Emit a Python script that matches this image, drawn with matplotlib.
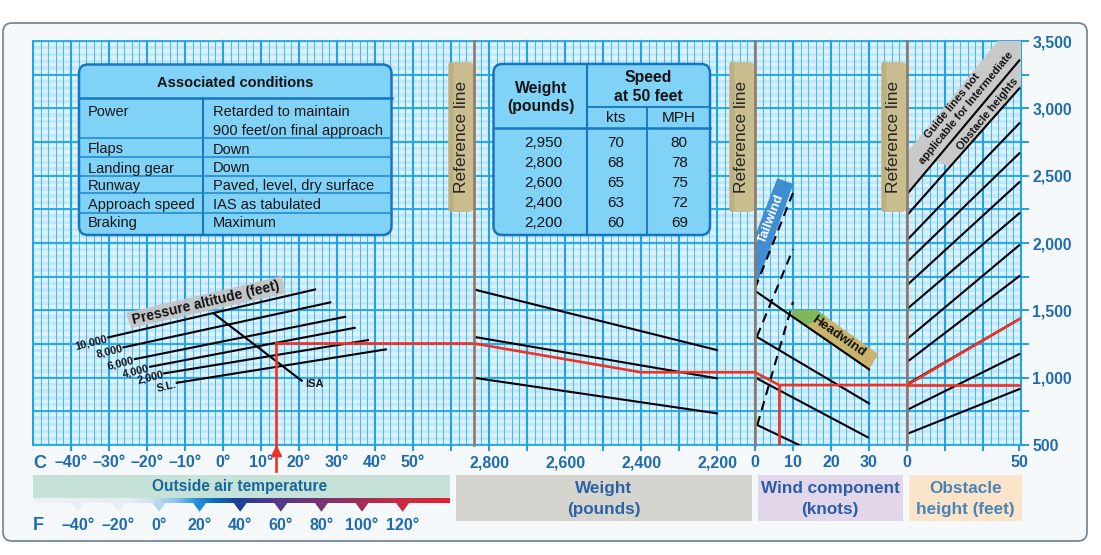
import numpy as np
import matplotlib
matplotlib.use('Agg')
import matplotlib.pyplot as plt
from matplotlib.patches import FancyBboxPatch, Polygon, Rectangle
from matplotlib.colors import LinearSegmentedColormap

plt.rcParams['font.family'] = ['Liberation Sans', 'DejaVu Sans']

# ---------------- data ----------------
altitude_labels = ['10,000', '8,000', '6,000', '4,000', '2,000', 'S.L.']
alt_temp_start = [-30.2, -26.2, -23.2, -19.2, -15.5, -12.2]
alt_temp_end = [24.2, 28.2, 32.1, 34.6, 38.1, 42.8]
alt_dist_start = [1299, 1225, 1138, 1081, 1032, 962]
alt_dist_end = [1655, 1559, 1452, 1370, 1279, 1210]
isa_temp = [-2.5, 20.7]
isa_dist = [1477, 977]

weight_ref = 2840
weight_min = 2200
weight_dist_ref = [1655, 1303, 999]
weight_dist_min = [1205, 995, 735]

headwind_start_kt = [0, 0, 0, 0.6]
headwind_start_dist = [1645, 1311, 1002, 648]
headwind_end_kt = [30, 30, 29.7, 12]
headwind_end_dist = [1062, 809, 557, 495]

tailwind_start_kt = [0, 0.5, 0.6]
tailwind_start_dist = [1662, 1305, 648]
tailwind_end_kt = [10, 10, 10]
tailwind_end_dist = [2372, 1954, 1563]

obstacle_dist_0 = [2362, 2206, 2021, 1858, 1687, 1509, 1286, 1116, 952, 760, 582]
obstacle_dist_50 = [3356, 3148, 2889, 2666, 2451, 2221, 1984, 1754, 1435, 1175, 915]

ex_temp = 14
ex_dist_temp = 1254
ex_weight = 2400
ex_dist_weight = 1040
ex_wind = 6.4
ex_dist_wind = 945
ex_obstacle = 50
ex_dist_obstacle = 1435

temp_c_ticks = [-40, -30, -20, -10, 0, 10, 20, 30, 40, 50, 60]
temp_c_labels = ['\u201340\u00b0', '\u201330\u00b0', '\u201320\u00b0', '\u201310\u00b0', '0\u00b0',
                 '10\u00b0', '20\u00b0', '30\u00b0', '40\u00b0', '50\u00b0', '']
temp_f_ticks = [-40, -20, 0, 20, 40, 60, 80, 100, 120]
temp_f_labels = ['\u201340\u00b0', '\u201320\u00b0', '0\u00b0', '20\u00b0', '40\u00b0', '60\u00b0',
                 '80\u00b0', '100\u00b0', '120\u00b0']
weight_ticks = [2800, 2600, 2400, 2200]
weight_labels = ['2,800', '2,600', '2,400', '2,200']
weight_minor = [2700, 2500, 2300]
wind_ticks = [0, 10, 20, 30]
wind_labels = ['0', '10', '20', '30']
obstacle_ticks = [0, 50]
obstacle_labels = ['0', '50']
dist_ticks = [500, 1000, 1500, 2000, 2500, 3000, 3500]
dist_labels = ['500', '1,000', '1,500', '2,000', '2,500', '3,000', '3,500']
dist_minor = [750, 1250, 1750, 2250, 2750, 3250]

cond_title = 'Associated conditions'
cond_names = ['Power', 'Flaps', 'Landing gear', 'Runway', 'Approach speed', 'Braking']
cond_values = ['Retarded to maintain\n900 feet/on final approach', 'Down', 'Down',
               'Paved, level, dry surface', 'IAS as tabulated', 'Maximum']
tbl_weight = ['2,950', '2,800', '2,600', '2,400', '2,200']
tbl_kts = ['70', '68', '65', '63', '60']
tbl_mph = ['80', '78', '75', '72', '69']

# ---------------- layout ----------------
W, H = 1101, 555
GX0, GX1, GY0, GY1 = 33, 1021, 41, 445
XR1, XR2, XR3 = 474, 755, 907
BLUE_TXT = '#1E6BB0'
TICK_C = '#1E9FE0'
RED = '#EE3224'
REFC = '#8E7B6B'
NARROW = ['Liberation Sans Narrow', 'Liberation Sans', 'DejaVu Sans']

fig = plt.figure(figsize=(W / 100, H / 100), dpi=100)


def rect(x0, y0, x1, y1):
    return [x0 / W, 1 - y1 / H, (x1 - x0) / W, (y1 - y0) / H]


def pix_axes(z):
    a = fig.add_axes([0, 0, 1, 1])
    a.set_xlim(0, W)
    a.set_ylim(H, 0)
    a.axis('off')
    a.set_zorder(z)
    a.patch.set_alpha(0)
    return a


bg = pix_axes(0)
bg.add_patch(FancyBboxPatch((3, 23), 1084, 518, boxstyle='round,pad=0,rounding_size=9',
                            fc='#F5F9FC', ec='#6E818E', lw=1.2))

# grid
ag = fig.add_axes(rect(GX0, GY0, GX1, GY1))
ag.set_zorder(1)
ag.set_xlim(0, 26)
ag.set_ylim(500, 3500)
ag.set_facecolor('#C3E7FA')
ag.set_xticks([])
ag.set_yticks([])
for s in ag.spines.values():
    s.set_visible(False)
for y in np.arange(500, 3500, 50):
    ag.axhspan(y + 12.5, y + 37.5, color='#DDF2FD', lw=0)
for x in np.arange(0, 26.001, 0.2):
    if abs(x - round(x)) > 1e-6:
        ag.axvline(x, color='#45BDF0', lw=0.75)
for y in range(500, 3501, 250):
    ag.axhline(y, color='#1DA5E8', lw=1.3, clip_on=False)
for x in range(27):
    ag.axvline(x, color='#1DA5E8', lw=1.5, clip_on=False)

mid = pix_axes(2)

# bottom bands
mid.add_patch(Rectangle((33, 475), 417, 23, fc='#C6E2D8', ec='none'))
mid.text(240, 487, 'Outside air temperature', ha='center', va='center', fontsize=11.2,
         fontweight='bold', color='#17679F')
mid.add_patch(Rectangle((456, 475), 296, 46, fc='#D6D4CF', ec='none'))
mid.text(604, 499, 'Weight\n(pounds)', ha='center', va='center', fontsize=12.3, family=NARROW,
         fontweight='bold', color='#2A64A5', linespacing=1.55)
mid.add_patch(Rectangle((758, 475), 145, 46, fc='#E2D6EA', ec='none'))
mid.text(830, 499, 'Wind component\n(knots)', ha='center', va='center', fontsize=12.3, family=NARROW,
         fontweight='bold', color='#2A5EA8', linespacing=1.55)
mid.add_patch(Rectangle((909, 475), 113, 46, fc='#FAE4CA', ec='none'))
mid.text(965.5, 499, 'Obstacle\nheight (feet)', ha='center', va='center', fontsize=12.3, family=NARROW,
         fontweight='bold', color='#4A84B6', linespacing=1.55)
mid.text(33, 464, 'C', ha='left', va='center', fontsize=13, fontweight='bold', color=BLUE_TXT)
mid.text(33, 525, 'F', ha='left', va='center', fontsize=13, fontweight='bold', color=BLUE_TXT)

# table 1: associated conditions
tb_ec = '#1575C0'
tb_fc = '#80D3F7'
mid.add_patch(FancyBboxPatch((79, 64.5), 312.5, 170.5, boxstyle='round,pad=0,rounding_size=9',
                             fc=tb_fc, ec=tb_ec, lw=1.8))
mid.plot([79, 391.5], [97.7, 97.7], color=tb_ec, lw=1.8)
mid.plot([202.7, 202.7], [97.7, 235], color=tb_ec, lw=1.4)
for yl in [138.3, 156.7, 176, 193.3, 213.3]:
    mid.plot([79, 391.5], [yl, yl], color='#1C86CC', lw=1.1)
mid.text(235.3, 86.9, cond_title, ha='center', va='baseline', fontsize=10.5, fontweight='bold',
         color='#111111')
row_base = [115.9, 153.5, 172.5, 190.2, 209.2, 226.9]
for name, val, yb in zip(cond_names, cond_values, row_base):
    mid.text(88, yb, name, ha='left', va='baseline', fontsize=10.5, color='#151515')
    for k, part in enumerate(val.split('\n')):
        mid.text(213, yb + 19.3 * k, part, ha='left', va='baseline', fontsize=10.5, color='#151515')

# table 2: weight / speed
mid.add_patch(FancyBboxPatch((493.5, 64), 216.5, 171, boxstyle='round,pad=0,rounding_size=9',
                             fc=tb_fc, ec=tb_ec, lw=1.8))
mid.plot([586.7, 586.7], [64, 235], color=tb_ec, lw=1.5)
mid.plot([493.5, 710], [128.3, 128.3], color=tb_ec, lw=1.8)
mid.plot([586.7, 710], [106.7, 106.7], color=tb_ec, lw=1.3)
mid.plot([647.3, 647.3], [106.7, 235], color=tb_ec, lw=1.3)
mid.text(541, 93.3, 'Weight', ha='center', va='baseline', fontsize=11.3, fontweight='bold', color='#111111')
mid.text(541, 111.3, '(pounds)', ha='center', va='baseline', fontsize=11.3, fontweight='bold', color='#111111')
mid.text(648, 81.7, 'Speed', ha='center', va='baseline', fontsize=11.3, fontweight='bold', color='#111111')
mid.text(648, 101, 'at 50 feet', ha='center', va='baseline', fontsize=11.3, fontweight='bold', color='#111111')
mid.text(616, 122, 'kts', ha='center', va='baseline', fontsize=11, color='#111111')
mid.text(679, 122, 'MPH', ha='center', va='baseline', fontsize=11, color='#111111')
for i, (w_, k_, m_) in enumerate(zip(tbl_weight, tbl_kts, tbl_mph)):
    yb = 147.2 + 20 * i
    mid.text(543.5, yb, w_, ha='center', va='baseline', fontsize=11, color='#111111')
    mid.text(616, yb, k_, ha='center', va='baseline', fontsize=11, color='#111111')
    mid.text(679.3, yb, m_, ha='center', va='baseline', fontsize=11, color='#111111')

# reference line label boxes
for xr in (XR1, XR2, XR3):
    mid.add_patch(FancyBboxPatch((xr - 25.5, 62), 25.5, 150, boxstyle='round,pad=0,rounding_size=6',
                                 fc='#C9BD8F', ec='none'))
    mid.add_patch(FancyBboxPatch((xr - 25.5, 62), 5, 150, boxstyle='round,pad=0,rounding_size=2.5',
                                 fc='#BCAF80', ec='none'))
    mid.text(xr - 13, 137, 'Reference line', rotation=90, ha='center', va='center', fontsize=12.5,
             color='#262626')

# pressure altitude label band
mid.add_patch(Polygon([(126, 312.7), (281.7, 276), (286, 293.3), (130.7, 328.3)], closed=True,
                      fc='#C4C4C4', ec='none', alpha=0.92))
mid.text(206, 302.5, 'Pressure altitude (feet)', rotation=13.3, ha='center', va='center',
         rotation_mode='anchor', fontsize=10, fontweight='bold', color='#111111')

# tailwind band
mid.add_patch(Polygon([(777.3, 178.3), (793.3, 184), (756, 287), (756, 233)], closed=True,
                      fc='#3E8ED6', ec='none'))
mid.text(771.5, 218.5, 'Tailwind', rotation=69, ha='center', va='center', rotation_mode='anchor',
         fontsize=9.5, fontweight='bold', color='white')

# headwind band
mid.add_patch(Polygon([(791.7, 310), (816.7, 310), (878.3, 354), (869, 369.3), (791.7, 315.5)],
                      closed=True, fc='#C8B46C', ec='none'))
mid.add_patch(Polygon([(791.7, 310), (816.7, 310), (826, 316.6), (806, 325.5), (791.7, 315.5)],
                      closed=True, fc='#80B65C', ec='none'))
mid.text(838.3, 336.7, 'Headwind', rotation=-34.8, ha='center', va='center', rotation_mode='anchor',
         fontsize=9.5, fontweight='bold', color='#111111')

# obstacle guide band
mid.add_patch(Polygon([(908.3, 151), (997.8, 41), (1021, 41), (1021, 85), (950, 166.8),
                       (935, 161.5), (908.3, 194)], closed=True, fc='#C9C9C9', ec='none'))
for txt, (tx, ty) in zip(['Guide lines not', 'applicable for Intermediate', 'Obstacle heights'],
                         [(952.5, 106.3), (966.7, 108), (987.5, 113.8)]):
    mid.text(tx, ty, txt, rotation=50.6, ha='center', va='center', rotation_mode='anchor',
             fontsize=8, fontweight='bold', color='#111111')


# ---------------- section axes ----------------
def section(x0, x1, xlim):
    ax = fig.add_axes(rect(x0, GY0, x1, GY1))
    ax.set_zorder(3)
    ax.set_xlim(*xlim)
    ax.set_ylim(500, 3500)
    ax.patch.set_alpha(0)
    for s in ax.spines.values():
        s.set_visible(False)
    ax.set_yticks([])
    ax.tick_params(axis='x', which='both', direction='out', length=4.3, width=1.4, color=TICK_C,
                   labelcolor=BLUE_TXT, labelsize=11.5, pad=3)
    return ax


at = section(GX0, XR1, (-50, 66))
aw = section(XR1, XR2, (weight_ref, 2100))
awd = section(XR2, XR3, (0, 40))
ao = section(XR3, GX1, (0, 50.75))

at.set_xticks(temp_c_ticks)
at.set_xticklabels(temp_c_labels, fontweight='bold')
aw.set_xticks(weight_ticks)
aw.set_xticklabels(weight_labels, fontweight='bold')
aw.set_xticks(weight_minor, minor=True)
awd.set_xticks(wind_ticks)
awd.set_xticklabels(wind_labels, fontweight='bold')
ao.set_xticks(obstacle_ticks)
ao.set_xticklabels(obstacle_labels, fontweight='bold')
ao.set_xticks([50.75 * 38 / 114, 50.75 * 76 / 114], minor=True)

ao.yaxis.tick_right()
ao.set_yticks(dist_ticks)
ao.set_yticklabels(dist_labels, fontweight='bold')
ao.set_yticks(dist_minor, minor=True)
ao.tick_params(axis='y', which='both', direction='out', length=6, width=1.4, color=TICK_C,
               labelcolor=BLUE_TXT, labelsize=11.3, pad=2)

LW = 1.5
# temperature section
for lbl, t0, t1, d0, d1 in zip(altitude_labels, alt_temp_start, alt_temp_end, alt_dist_start, alt_dist_end):
    at.plot([t0, t1], [d0, d1], color='black', lw=LW)
    at.annotate(lbl, xy=(t0, d0), xytext=(-0.5, -0.8), textcoords='offset points', ha='right',
                va='center', rotation=14, rotation_mode='anchor', fontsize=7.8, fontweight='bold',
                color='#151515', annotation_clip=False)
at.plot(isa_temp, isa_dist, color='black', lw=LW)
at.annotate('ISA', xy=(isa_temp[1], isa_dist[1]), xytext=(2.5, -2), textcoords='offset points',
            ha='left', va='center', fontsize=8, fontweight='bold', color='#151515')

px_ft = 3000 / (GY1 - GY0)
at.plot([ex_temp, ex_temp], [500 - 26 * px_ft, ex_dist_temp], color=RED, lw=1.9, clip_on=False, zorder=5)
at.plot([ex_temp, at.get_xlim()[1]], [ex_dist_temp, ex_dist_temp], color=RED, lw=1.9, zorder=5)
at.plot([ex_temp], [500 - 6 * px_ft], marker='^', ms=7, color=RED, mec=RED, clip_on=False, zorder=6)

# weight section
for d0, d1 in zip(weight_dist_ref, weight_dist_min):
    aw.plot([weight_ref, weight_min], [d0, d1], color='black', lw=LW)
aw.axvline(weight_ref, color=REFC, lw=1.9, clip_on=False)
aw.plot([weight_ref, ex_weight, aw.get_xlim()[1]], [ex_dist_temp, ex_dist_weight, ex_dist_weight],
        color=RED, lw=1.9, zorder=5)

# wind section
for k0, d0, k1, d1 in zip(headwind_start_kt, headwind_start_dist, headwind_end_kt, headwind_end_dist):
    awd.plot([k0, k1], [d0, d1], color='black', lw=LW)
for k0, d0, k1, d1 in zip(tailwind_start_kt, tailwind_start_dist, tailwind_end_kt, tailwind_end_dist):
    awd.plot([k0, k1], [d0, d1], color='black', lw=LW, dashes=(4.5, 3))
awd.axvline(0, color=REFC, lw=1.9, clip_on=False)
awd.plot([0, ex_wind, 40], [ex_dist_weight, ex_dist_wind, ex_dist_wind], color=RED, lw=1.9, zorder=5)
awd.plot([ex_wind, ex_wind], [ex_dist_wind, 500], color=RED, lw=1.9, zorder=5)

# obstacle section
for d0, d1 in zip(obstacle_dist_0, obstacle_dist_50):
    ao.plot([0, 50], [d0, d1], color='black', lw=LW)
ao.axvline(0, color=REFC, lw=1.9, clip_on=False)
ao.plot([0, ex_obstacle], [ex_dist_wind, ex_dist_obstacle], color=RED, lw=1.9, zorder=5)
ao.plot([0, ex_obstacle], [ex_dist_wind, ex_dist_wind], color=RED, lw=1.9, zorder=5)

# Fahrenheit scale with gradient bar
grad_stops = [(33, '#EEF2F6'), (130, '#E5ECF3'), (150, '#CFE2F0'), (175, '#8CC4EC'), (195, '#2A95DB'),
              (215, '#0A6CC0'), (238, '#1B3E97'), (270, '#4B3A8E'), (320, '#7B3275'), (360, '#A02D5A'),
              (400, '#C72A43'), (450, '#E8202C')]
grad_cmap = LinearSegmentedColormap.from_list('oat', [((p - 33) / 417, c) for p, c in grad_stops])
aF = fig.add_axes(rect(33, 498, 450, 512))
aF.set_zorder(3)
F_lo, F_hi = (33 - 159) / 2.03, (450 - 159) / 2.03
aF.imshow(np.linspace(0, 1, 512)[None, :], extent=(F_lo, F_hi, 0.62, 1), aspect='auto',
          cmap=grad_cmap, interpolation='bilinear')
for f in temp_f_ticks:
    col = grad_cmap((f - F_lo) / (F_hi - F_lo))
    aF.fill([f - 3.2, f + 3.2, f], [0.64, 0.64, 0.02], color=col, lw=0)
aF.set_xlim(F_lo, F_hi)
aF.set_ylim(0, 1)
aF.patch.set_alpha(0)
for s in aF.spines.values():
    s.set_visible(False)
aF.set_yticks([])
aF.set_xticks(temp_f_ticks)
aF.set_xticklabels(temp_f_labels, fontweight='bold')
aF.tick_params(axis='x', length=0, labelcolor=BLUE_TXT, labelsize=11.5, pad=4)

fig.savefig('out.png', dpi=100)
